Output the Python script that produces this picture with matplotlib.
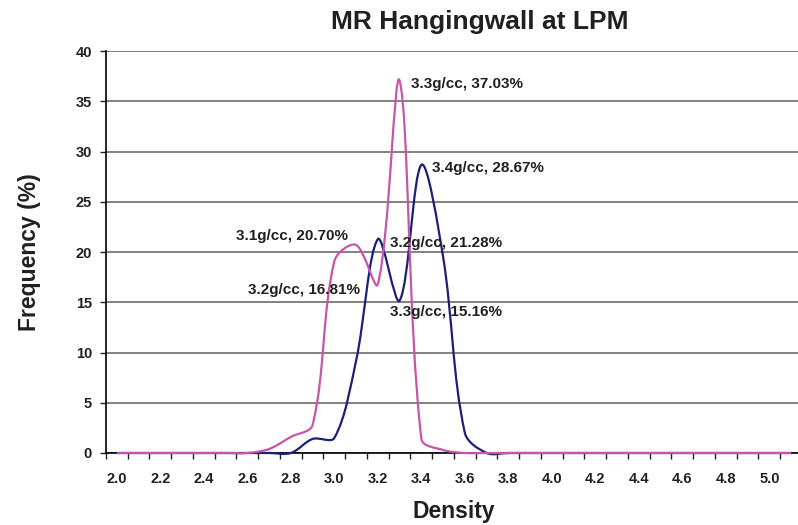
import matplotlib.pyplot as plt
import numpy as np
from matplotlib.path import Path
from matplotlib.patches import PathPatch

plt.rcParams['font.family'] = ['Liberation Sans', 'DejaVu Sans']
plt.rcParams['font.weight'] = 'bold'

# density categories (g/cc), 0.1 step
density = [2.0, 2.1, 2.2, 2.3, 2.4, 2.5, 2.6, 2.7, 2.8, 2.9, 3.0, 3.1, 3.2, 3.3,
           3.4, 3.5, 3.6, 3.7, 3.8, 3.9, 4.0, 4.1, 4.2, 4.3, 4.4, 4.5, 4.6, 4.7,
           4.8, 4.9, 5.0, 5.1]
# frequency (%)
freq_navy = [0, 0, 0, 0, 0, 0, 0, 0, 0, 1.4, 1.5, 9.2, 21.28, 15.16,
             28.67, 19.5, 2.0, 0, 0, 0, 0, 0, 0, 0, 0, 0, 0, 0, 0, 0, 0, 0]
freq_pink = [0, 0, 0, 0, 0, 0, 0, 0.4, 1.6, 2.8, 19.1, 20.70, 16.81, 37.03,
             1.4, 0.3, 0, 0, 0, 0, 0, 0, 0, 0, 0, 0, 0, 0, 0, 0, 0, 0]

labels = [(3.352, 36.7, '3.3g/cc, 37.03%'),
          (3.448, 28.4, '3.4g/cc, 28.67%'),
          (2.547, 21.6, '3.1g/cc, 20.70%'),
          (3.255, 20.9, '3.2g/cc, 21.28%'),
          (2.602, 16.2, '3.2g/cc, 16.81%'),
          (3.255, 14.0, '3.3g/cc, 15.16%')]

navy = '#1c1f78'
pink = '#c855a8'
txt = '#231f20'


def smooth_path(ax, x, y):
    # smoothed line like a spreadsheet chart: bezier through every point,
    # worked out in screen space so steep drops don't overshoot
    pts = ax.transData.transform(np.column_stack([x, y]))
    n = len(pts)
    out_c = []
    in_c = []
    for i in range(n):
        p0 = pts[max(i - 1, 0)]
        p1 = pts[i]
        p2 = pts[min(i + 1, n - 1)]
        d01 = np.hypot(*(p1 - p0))
        d12 = np.hypot(*(p2 - p1))
        tot = d01 + d12
        if tot == 0:
            out_c.append(p1)
            in_c.append(p1)
            continue
        t = p2 - p0
        out_c.append(p1 + t * (d12 / tot) / 3.0)
        in_c.append(p1 - t * (d01 / tot) / 3.0)
    verts = [pts[0]]
    codes = [Path.MOVETO]
    for i in range(n - 1):
        verts += [out_c[i], in_c[i + 1], pts[i + 1]]
        codes += [Path.CURVE4] * 3
    verts = ax.transData.inverted().transform(np.array(verts))
    return Path(verts, codes)


fig = plt.figure(figsize=(7.98, 5.25), dpi=100)
W, H = 798.0, 525.0
ax = fig.add_axes([106 / W, (H - 453) / H, 696 / W, 402 / H])
ax.set_xlim(1.95, 5.15)
ax.set_ylim(0, 40)

ax.add_patch(PathPatch(smooth_path(ax, density, freq_navy), fill=False,
                       edgecolor=navy, lw=1.6, zorder=3, clip_on=False))
ax.add_patch(PathPatch(smooth_path(ax, density, freq_pink), fill=False,
                       edgecolor=pink, lw=1.6, zorder=4, clip_on=False))

ax.set_yticks(np.arange(0, 41, 5))
ax.yaxis.grid(True, color='#777777', lw=1.3)
ax.set_axisbelow(True)

ax.set_xticks(density[::2])
ax.set_xticklabels(['%.1f' % d for d in density[::2]])
ax.set_xticks(np.arange(1.95, 5.16, 0.1), minor=True)
ax.tick_params(axis='x', which='major', length=0, pad=14, labelsize=10.5, colors=txt)
ax.tick_params(axis='x', which='minor', length=4, width=1, direction='out', color=txt)
ax.tick_params(axis='y', length=4, width=1, direction='out', labelsize=10.5, colors=txt, pad=6)

for s in ['top', 'right']:
    ax.spines[s].set_visible(False)
for s in ['left', 'bottom']:
    ax.spines[s].set_color('black')
    ax.spines[s].set_linewidth(1.2)

for x, y, t in labels:
    ax.text(x, y, t, fontsize=11, fontweight='bold', color=txt, va='center', ha='left', zorder=5)

ax.set_ylabel('Frequency (%)', fontsize=16.5, fontweight='bold', color=txt, labelpad=25)
ax.set_xlabel('Density', fontsize=16.5, fontweight='bold', color=txt, labelpad=10)
fig.text(480 / W, 1 - 22 / H, 'MR Hangingwall at LPM', fontsize=19, fontweight='bold',
         color=txt, ha='center', va='center')

fig.savefig('out.png', dpi=100)
